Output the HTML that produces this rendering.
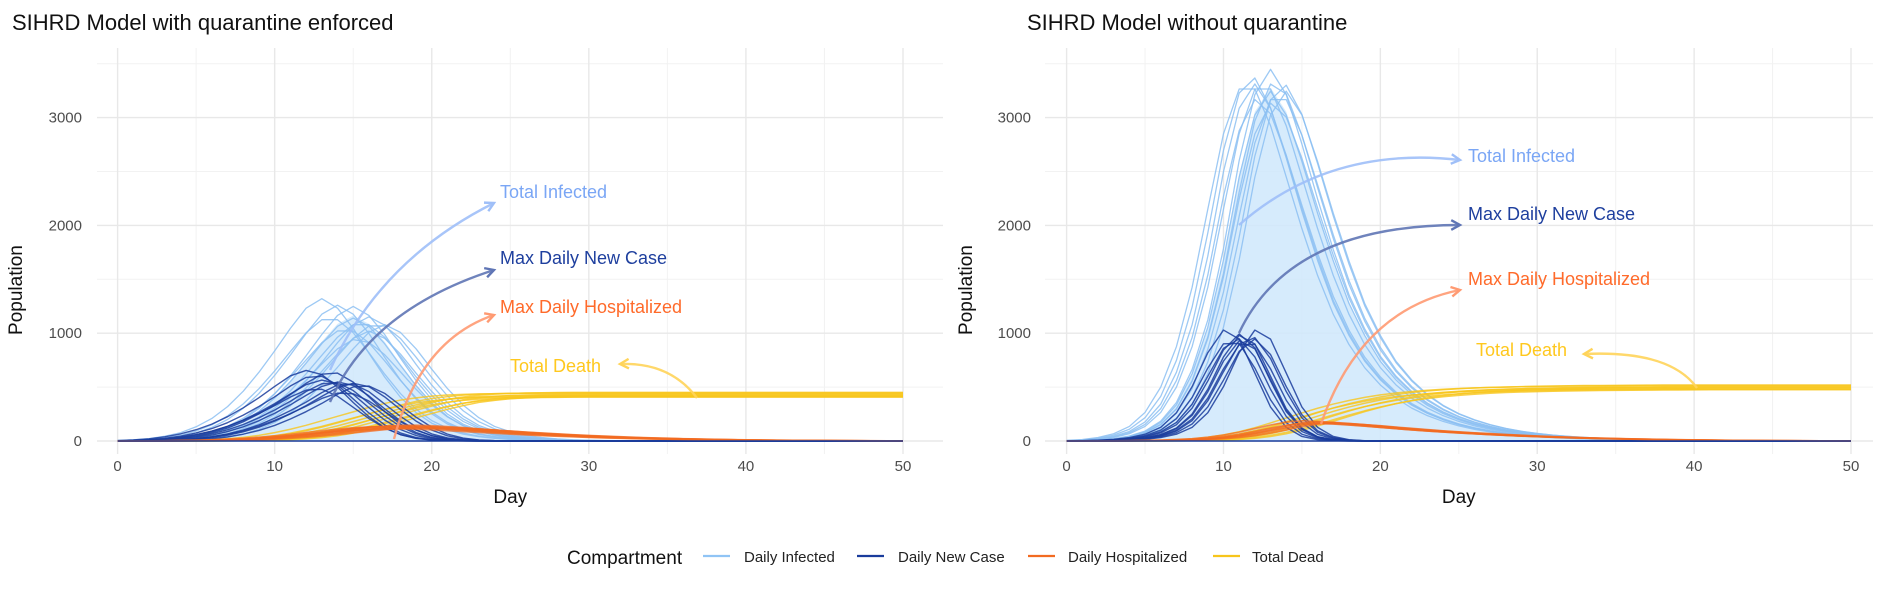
<!DOCTYPE html>
<html><head><meta charset="utf-8"><style>
body{margin:0;background:#fff;}
svg text{font-family:"Liberation Sans",sans-serif;}
</style></head><body>
<svg id="chart" width="1891" height="585" xmlns="http://www.w3.org/2000/svg">
<g id="root"></g>
</svg>
<script>
// ---- data ----
const days = Array.from({length:51},(_,i)=>i);
const xTicks = [0,10,20,30,40,50];
const yTicks = [0,1000,2000,3000];
const panelTitles = ["SIHRD Model with quarantine enforced","SIHRD Model without quarantine"];
// base shapes (quarantine)
const qInfected = [0,2,5,10,20,40,70,120,190,290,420,580,760,950,1120,1200,1120,950,740,540,370,240,150,95,58,36,22,13,8,5,3,2,1,1,0,0,0,0,0,0,0,0,0,0,0,0,0,0,0,0,0];
const qNewCase = [0,2,5,12,25,45,75,115,170,240,320,410,510,590,600,520,390,260,150,75,32,12,5,2,0,0,0,0,0,0,0,0,0,0,0,0,0,0,0,0,0,0,0,0,0,0,0,0,0,0,0];
const qHosp = [0,0,1,2,3,5,8,12,18,26,36,48,62,78,95,110,122,130,134,132,126,118,108,98,88,79,70,62,55,48,42,36,31,27,23,20,17,14,12,10,8,7,6,5,4,3,3,2,2,1,1];
const qDead = [0,0,0,0,1,2,4,7,12,20,32,50,75,105,140,180,220,260,300,335,365,385,400,410,416,420,422,424,425,425,425,425,425,425,425,425,425,425,425,425,425,425,425,425,425,425,425,425,425,425,425];
const qInfShift = [-2,-1.5,-1,0,0,0.5,1,1.5,2,-0.5,1,0.3];
const qInfScale = [1.1,0.97,1.05,1.04,0.95,0.93,0.96,0.92,0.9,0.88,0.85,0.8];
const qNcShift = [-1.5,-1,-0.5,0,0,0.5,1,1.5,2,-1,0.8];
const qNcScale = [1.1,1.0,0.95,1.05,0.9,0.92,0.88,0.9,0.85,0.8,0.75];
const qHospShift = [-1,0,0,1,1,-0.5,0.5,2];
const qHospScale = [1.0,0.95,1.05,0.9,1.0,0.85,1.1,0.95];
const qDeadShift = [-2,-1,-0.5,0,0.5,1,1.5,2,2.5,3];
const qDeadScale = [1.04,0.97,1.05,1.0,0.96,1.06,1.02,0.96,1.0,0.98];
// base shapes (no quarantine)
const nInfected = [0,3,8,20,45,90,180,350,650,1100,1750,2550,3150,3380,3150,2700,2200,1740,1330,1020,770,590,450,345,265,205,158,122,94,73,57,45,35,28,22,17,13,10,8,6,5,4,3,3,2,2,1,1,1,0,0];
const nNewCase = [0,1,3,7,15,30,60,120,250,480,780,980,900,600,300,120,40,12,3,0,0,0,0,0,0,0,0,0,0,0,0,0,0,0,0,0,0,0,0,0,0,0,0,0,0,0,0,0,0,0,0];
const nHosp = [0,0,0,1,2,3,5,8,13,20,32,50,75,105,135,160,170,165,155,145,132,120,108,97,87,78,70,62,55,48,42,37,32,28,24,21,18,15,13,11,9,8,6,5,4,3,3,2,2,1,1];
const nDead = [0,0,0,0,0,1,2,4,8,14,25,42,68,100,140,185,230,275,315,350,380,405,425,440,452,462,470,476,480,484,487,490,492,494,495,496,497,498,499,500,500,500,500,500,500,500,500,500,500,500,500];
const nInfShift = [-1.5,-1.2,-1,-0.5,0,0,0.3,0.5,0.8,-0.8,0.2,1];
const nInfScale = [1.0,1.01,0.98,1.0,1.02,0.96,1.0,0.97,0.99,0.95,0.94,0.96];
const nNcShift = [-1,-0.7,-0.4,-0.2,0,0,0.3,0.5,0.7,1];
const nNcScale = [1.05,0.98,1.0,1.03,0.95,1.0,0.97,1.02,0.99,1.05];
const nHospShift = [-1,-0.5,0,0,0.5,1];
const nHospScale = [1.1,1.0,1.05,0.95,1.0,0.98];
const nDeadShift = [-1.5,-1,-0.5,0,0.5,1,1.5,2];
const nDeadScale = [1.03,0.97,1.04,1.0,0.96,1.01,0.95,0.99];

const NS="http://www.w3.org/2000/svg";
const root=document.getElementById('root');
function el(tag,attrs,parent){const e=document.createElementNS(NS,tag);for(const k in attrs)e.setAttribute(k,attrs[k]);(parent||root).appendChild(e);return e;}
function interp(arr,d){if(d<0)return arr[0];if(d>=arr.length-1)return arr[arr.length-1];const i=Math.floor(d),f=d-i;return arr[i]*(1-f)+arr[i+1]*f;}

const panels=[
 {x0:117.6,x50:903,gx0:97,gx1:943,ylab:82,title:12,popX:22,
  inf:qInfected,nc:qNewCase,hosp:qHosp,dead:qDead,
  infS:qInfShift,infK:qInfScale,ncS:qNcShift,ncK:qNcScale,hS:qHospShift,hK:qHospScale,dS:qDeadShift,dK:qDeadScale},
 {x0:1066.6,x50:1851,gx0:1045,gx1:1873,ylab:1031,title:1027,popX:972,
  inf:nInfected,nc:nNewCase,hosp:nHosp,dead:nDead,
  infS:nInfShift,infK:nInfScale,ncS:nNcShift,ncK:nNcScale,hS:nHospShift,hK:nHospScale,dS:nDeadShift,dK:nDeadScale}
];
const Y0=441,YK=0.1078,GY0=48,GY1=454;
const yS=v=>Y0-v*YK;

panels.forEach((p,pi)=>{
  const xS=d=>p.x0+d*(p.x50-p.x0)/50;
  const g=el('g',{});
  
  
  for(let v=500;v<=3500;v+=1000){el('line',{x1:p.gx0,x2:p.gx1,y1:yS(v),y2:yS(v),stroke:'#f2f2f2','stroke-width':1},g);}
  for(let d=5;d<=55;d+=10){if(xS(d)<p.gx1)el('line',{x1:xS(d),x2:xS(d),y1:GY0,y2:GY1,stroke:'#f2f2f2','stroke-width':1},g);}
  yTicks.forEach(v=>{el('line',{x1:p.gx0,x2:p.gx1,y1:yS(v),y2:yS(v),stroke:'#e8e8e8','stroke-width':1.4},g);
    const t=el('text',{x:p.ylab,y:yS(v)+5,'text-anchor':'end','font-size':15,fill:'#4d4d4d'},g);t.textContent=v;
    });
  xTicks.forEach(d=>{el('line',{x1:xS(d),x2:xS(d),y1:GY0,y2:GY1,stroke:'#e8e8e8','stroke-width':1.4},g);
    const t=el('text',{x:xS(d),y:471,'text-anchor':'middle','font-size':15,fill:'#4d4d4d'},g);t.textContent=d;
    });
  const tt=el('text',{x:p.title,y:30,'font-size':22,fill:'#111'},g);tt.textContent=panelTitles[pi];
  
  const xt=el('text',{x:(p.x0+p.x50)/2,y:503,'text-anchor':'middle','font-size':19,fill:'#111'},g);xt.textContent='Day';
  
  const yt=el('text',{x:0,y:0,'text-anchor':'middle','font-size':19,fill:'#111',transform:`translate(${p.popX},${yS(1400)}) rotate(-90)`},g);yt.textContent='Population';
  
  let fd=`M${xS(0)},${yS(0)}`;days.forEach(d=>{fd+=` L${xS(d)},${yS(p.inf[d]*0.97)}`;});fd+=` L${xS(50)},${yS(0)} Z`;
  const fp=el('path',{d:fd,fill:'#cfe8fb','fill-opacity':0.85},g);
  
  function runs(base,shifts,scales,color,w,op,name){
    shifts.forEach((s,i)=>{let d='';days.forEach(dd=>{d+=(dd?' L':'M')+xS(dd)+','+yS(interp(base,dd-s)*scales[i]);});
      const pth=el('path',{d:d,fill:'none',stroke:color,'stroke-width':w,'stroke-opacity':op,'stroke-linejoin':'round'},g);
      });
  }
  runs(p.inf,p.infS,p.infK,'#8cc0f2',1.3,0.85,'infected-line');
  runs(p.dead,p.dS,p.dK,'#f7c51b',1.5,0.8,'dead-line');
  runs(p.nc,p.ncS,p.ncK,'#1a3c9c',1.4,0.85,'new-case-line');
  runs(p.hosp,p.hS,p.hK,'#f26b21',1.6,0.75,'hospitalized-line');
  el('line',{x1:xS(0),x2:xS(50),y1:yS(0),y2:yS(0),stroke:'#1a3c9c','stroke-width':1.6},g);
});

const annots=[
 ['Total Infected',500,198,'#7aa6f5',330,370,380,260,494,203,'#9fbff8'],
 ['Max Daily New Case',500,264,'#1e3f9e',330,402,370,310,494,270,'#5f75b5'],
 ['Max Daily Hospitalized',500,313,'#ff6a2a',394,439,420,340,494,315,'#ff9a72'],
 ['Total Death',510,372,'#ffc81e',697,398,670,362,620,364,'#ffd45a'],
 ['Total Infected',1468,162,'#7aa6f5',1239,225,1330,145,1460,160,'#9fbff8'],
 ['Max Daily New Case',1468,220,'#1e3f9e',1239,333,1290,225,1460,225,'#5f75b5'],
 ['Max Daily Hospitalized',1468,285,'#ff6a2a',1321,424,1360,310,1460,290,'#ff9a72'],
 ['Total Death',1476,356,'#ffc81e',1697,388,1670,350,1584,354,'#ffd45a']
];
annots.forEach((a,i)=>{
  const [t,tx,ty,c,fx,fy,cx,cy,ex,ey,ac]=a;
  const pth=el('path',{d:`M${fx},${fy} Q${cx},${cy} ${ex},${ey}`,fill:'none',stroke:ac,'stroke-width':2.4,'stroke-opacity':0.9});
  
  const ang=Math.atan2(ey-cy,ex-cx),L=10;
  const h=el('path',{d:`M${ex-L*Math.cos(ang-0.5)},${ey-L*Math.sin(ang-0.5)} L${ex},${ey} L${ex-L*Math.cos(ang+0.5)},${ey-L*Math.sin(ang+0.5)}`,fill:'none',stroke:ac,'stroke-width':2.4});
  
  const tx_=el('text',{x:tx,y:ty,'font-size':18,fill:c});tx_.textContent=t;
  
});

const lg=el('g',{});

const lt=el('text',{x:567,y:564,'font-size':19,fill:'#111'},lg);lt.textContent='Compartment';
const legendItems=[['Daily Infected','#90c4f5',703,744],['Daily New Case','#1a3c9c',857,898],['Daily Hospitalized','#f26b21',1028,1068],['Total Dead','#f7c51b',1213,1252]];
legendItems.forEach(li=>{
  const ln=el('line',{x1:li[2],x2:li[2]+27,y1:556,y2:556,stroke:li[1],'stroke-width':2.2},lg);
  
  const tx=el('text',{x:li[3],y:562,'font-size':15,fill:'#222'},lg);tx.textContent=li[0];
  
});
</script>
</body></html>
